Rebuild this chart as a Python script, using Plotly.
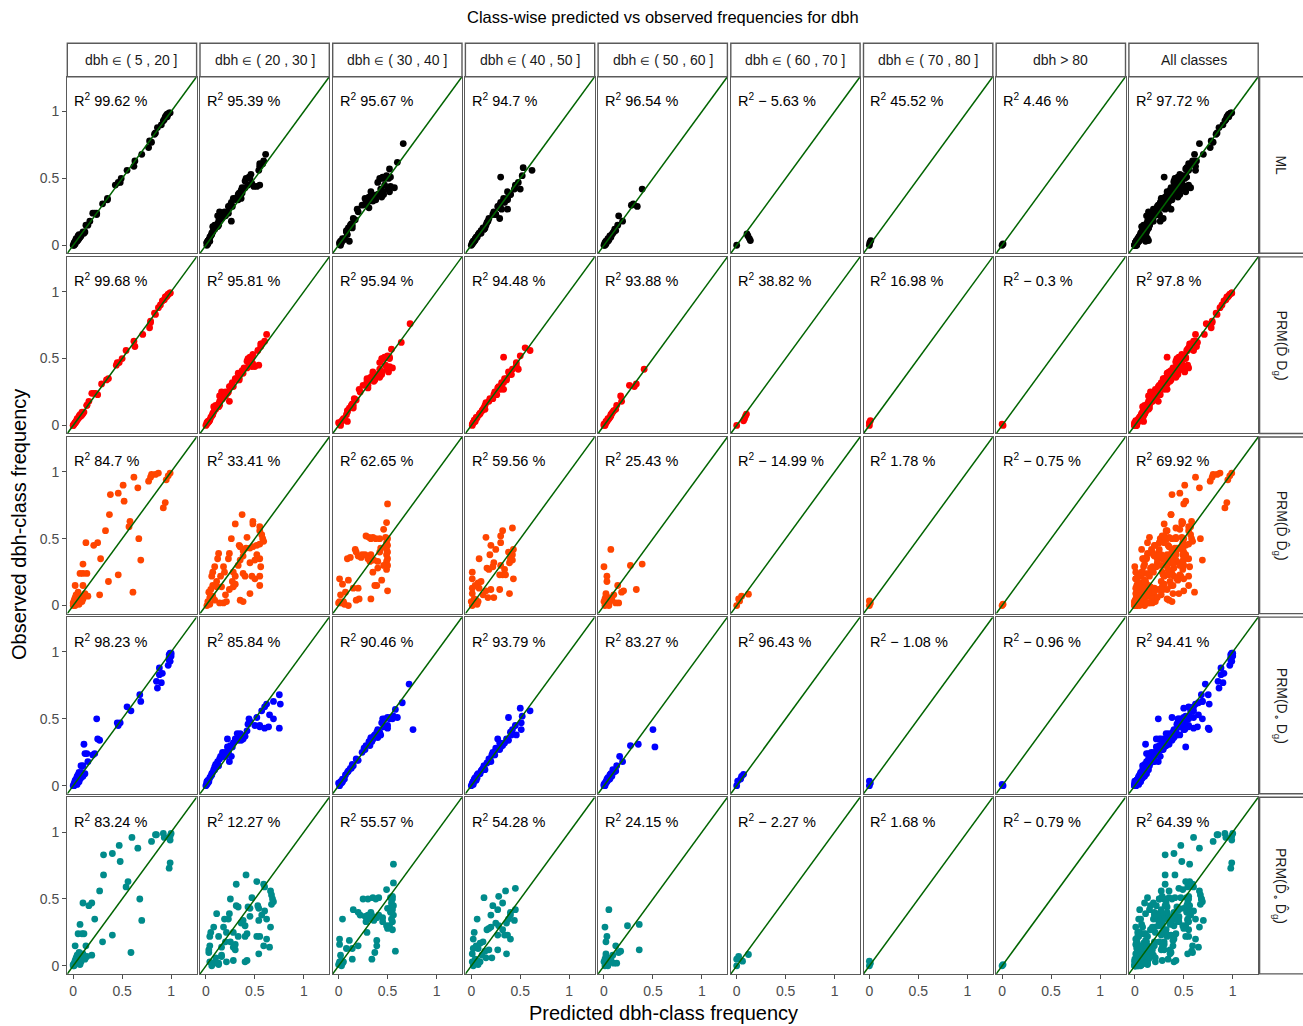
import plotly.graph_objects as go

# ---------------- data ----------------
EL = "<span style='font-size:11px'>\u2208</span>"
class_labels = ["dbh " + EL + " ( 5 , 20 ]", "dbh " + EL + " ( 20 , 30 ]", "dbh " + EL + " ( 30 , 40 ]",
                "dbh " + EL + " ( 40 , 50 ]", "dbh " + EL + " ( 50 , 60 ]", "dbh " + EL + " ( 60 , 70 ]",
                "dbh " + EL + " ( 70 , 80 ]", "dbh > 80", "All classes"]
row_labels = ["ML",
              "PRM(D\u0304 D<sub>g</sub>)",
              "PRM(D\u0302 D\u0302<sub>g</sub>)",
              "PRM(D<sub>\u2218</sub> D<sub>g</sub>)",
              "PRM(D\u0302<sub>\u2218</sub> D\u0302<sub>g</sub>)"]
row_colors = ["#000000", "#FF0000", "#FF4500", "#0000FF", "#008B8B"]

r2_ml = [99.62, 95.39, 95.67, 94.7, 96.54, -5.63, 45.52, 4.46, 97.72]
r2_prm_bar = [99.68, 95.81, 95.94, 94.48, 93.88, 38.82, 16.98, -0.3, 97.8]
r2_prm_hat = [84.7, 33.41, 62.65, 59.56, 25.43, -14.99, 1.78, -0.75, 69.92]
r2_prm_o = [98.23, 85.84, 90.46, 93.79, 83.27, 96.43, -1.08, -0.96, 94.41]
r2_prm_ohat = [83.24, 12.27, 55.57, 54.28, 24.15, -2.27, 1.68, -0.79, 64.39]

# observed class frequencies (shared by all methods)
obs_c1 = [0.99, 0.99, 0.98, 0.98, 0.97, 0.96, 0.96, 0.94, 0.93, 0.90,
          0.88, 0.84, 0.83, 0.78, 0.77, 0.73, 0.68, 0.63, 0.59, 0.56,
          0.50, 0.47, 0.47, 0.45, 0.35, 0.34, 0.31, 0.24, 0.24, 0.24,
          0.23, 0.18, 0.15, 0.15, 0.10, 0.08, 0.10, 0.09, 0.08, 0.07,
          0.07, 0.06, 0.05, 0.05, 0.04, 0.03, 0.03, 0.02, 0.02, 0.01,
          0.01, 0.00, 0.00]
ml_c1 = [0.99, 0.98, 0.97, 0.96, 0.95, 0.96, 0.94, 0.93, 0.92, 0.90,
         0.86, 0.84, 0.83, 0.78, 0.80, 0.77, 0.70, 0.63, 0.62, 0.55,
         0.49, 0.48, 0.46, 0.43, 0.35, 0.35, 0.30, 0.24, 0.22, 0.20,
         0.24, 0.17, 0.13, 0.15, 0.12, 0.08, 0.10, 0.11, 0.06, 0.08,
         0.05, 0.07, 0.06, 0.03, 0.05, 0.02, 0.04, 0.02, 0.01, 0.01,
         0.02, 0.01, 0.00]
bar_c1 = [0.99, 0.99, 0.97, 0.97, 0.96, 0.95, 0.94, 0.93, 0.91, 0.89,
          0.87, 0.83, 0.84, 0.79, 0.79, 0.78, 0.71, 0.62, 0.63, 0.54,
          0.50, 0.47, 0.45, 0.44, 0.36, 0.34, 0.29, 0.23, 0.21, 0.19,
          0.25, 0.16, 0.14, 0.14, 0.11, 0.09, 0.09, 0.10, 0.07, 0.08,
          0.06, 0.06, 0.05, 0.04, 0.04, 0.03, 0.03, 0.02, 0.02, 0.01,
          0.01, 0.00, 0.00]
hat_c1 = [0.99, 0.87, 0.84, 0.80, 0.97, 0.62, 0.79, 0.95, 0.77, 0.51,
          0.66, 0.46, 0.38, 0.52, 0.94, 0.92, 0.37, 0.58, 0.57, 0.33,
          0.67, 0.13, 0.25, 0.21, 0.28, 0.69, 0.10, 0.07, 0.10, 0.14,
          0.46, 0.36, 0.02, 0.10, 0.61, 0.27, 0.05, 0.12, 0.03, 0.08,
          0.15, 0.02, 0.10, 0.06, 0.01, 0.04, 0.09, 0.00, 0.03, 0.01,
          0.06, 0.02, 0.00]
o_c1 = [0.99, 1.00, 0.98, 0.99, 1.00, 0.98, 0.99, 0.98, 0.99, 0.97,
        0.88, 0.91, 0.88, 0.85, 0.90, 0.86, 0.68, 0.69, 0.55, 0.59,
        0.24, 0.45, 0.48, 0.46, 0.25, 0.27, 0.11, 0.14, 0.22, 0.12,
        0.20, 0.15, 0.10, 0.08, 0.06, 0.10, 0.09, 0.12, 0.05, 0.10,
        0.04, 0.08, 0.03, 0.07, 0.02, 0.05, 0.06, 0.01, 0.03, 0.02,
        0.04, 0.01, 0.00]
ohat_c1 = [1.00, 0.92, 0.84, 0.85, 0.99, 0.60, 0.93, 0.99, 0.80, 0.47,
           0.66, 0.40, 0.31, 0.48, 0.99, 0.98, 0.31, 0.56, 0.54, 0.27,
           0.68, 0.10, 0.19, 0.16, 0.22, 0.70, 0.07, 0.05, 0.11, 0.09,
           0.40, 0.30, 0.02, 0.13, 0.59, 0.19, 0.06, 0.10, 0.04, 0.09,
           0.14, 0.03, 0.12, 0.05, 0.02, 0.03, 0.08, 0.01, 0.04, 0.00,
           0.07, 0.01, 0.00]

obs_c2 = [0.68, 0.63, 0.61, 0.61, 0.59, 0.56, 0.50, 0.53, 0.50, 0.48,
          0.46, 0.45, 0.44, 0.43, 0.43, 0.41, 0.45, 0.44, 0.39, 0.35,
          0.39, 0.35, 0.34, 0.37, 0.32, 0.34, 0.35, 0.29, 0.29, 0.25,
          0.22, 0.29, 0.25, 0.22, 0.25, 0.22, 0.24, 0.22, 0.22, 0.20,
          0.22, 0.15, 0.15, 0.14, 0.14, 0.12, 0.14, 0.09, 0.04, 0.03,
          0.02, 0.02, 0.03, 0.03, 0.00, 0.06, 0.07, 0.18, 0.18, 0.16,
          0.01, 0.04, 0.10, 0.08, 0.51, 0.38, 0.30, 0.12]
ml_c2 = [0.61, 0.59, 0.55, 0.58, 0.55, 0.54, 0.41, 0.46, 0.45, 0.40,
         0.47, 0.55, 0.52, 0.37, 0.40, 0.36, 0.43, 0.49, 0.34, 0.30,
         0.37, 0.28, 0.33, 0.35, 0.26, 0.31, 0.36, 0.23, 0.27, 0.19,
         0.17, 0.25, 0.22, 0.20, 0.14, 0.18, 0.23, 0.15, 0.19, 0.16,
         0.12, 0.13, 0.09, 0.12, 0.07, 0.08, 0.10, 0.06, 0.03, 0.02,
         0.01, 0.01, 0.02, 0.04, 0.01, 0.04, 0.05, 0.13, 0.26, 0.12,
         0.02, 0.03, 0.07, 0.06, 0.44, 0.33, 0.25, 0.09]
bar_c2 = [0.62, 0.60, 0.57, 0.56, 0.56, 0.53, 0.43, 0.48, 0.47, 0.42,
          0.48, 0.54, 0.50, 0.39, 0.42, 0.37, 0.44, 0.47, 0.33, 0.31,
          0.38, 0.30, 0.34, 0.34, 0.27, 0.32, 0.34, 0.24, 0.28, 0.20,
          0.18, 0.26, 0.23, 0.19, 0.16, 0.19, 0.22, 0.16, 0.20, 0.17,
          0.14, 0.14, 0.10, 0.13, 0.08, 0.09, 0.11, 0.07, 0.04, 0.02,
          0.02, 0.01, 0.03, 0.03, 0.00, 0.05, 0.06, 0.14, 0.24, 0.13,
          0.01, 0.04, 0.08, 0.07, 0.45, 0.34, 0.26, 0.10]
hat_c2 = [0.37, 0.48, 0.48, 0.30, 0.55, 0.55, 0.26, 0.57, 0.58, 0.59,
          0.55, 0.52, 0.48, 0.45, 0.41, 0.38, 0.34, 0.35, 0.13, 0.12,
          0.24, 0.23, 0.35, 0.38, 0.45, 0.50, 0.55, 0.56, 0.09, 0.07,
          0.06, 0.18, 0.19, 0.15, 0.28, 0.30, 0.38, 0.40, 0.47, 0.50,
          0.55, 0.55, 0.07, 0.11, 0.16, 0.24, 0.28, 0.45, 0.35, 0.38,
          0.14, 0.18, 0.21, 0.02, 0.01, 0.04, 0.07, 0.11, 0.27, 0.30,
          0.04, 0.09, 0.03, 0.20, 0.42, 0.52, 0.33, 0.05]
o_c2 = [0.75, 0.69, 0.76, 0.62, 0.60, 0.57, 0.44, 0.65, 0.69, 0.45,
        0.43, 0.55, 0.64, 0.75, 0.60, 0.42, 0.50, 0.55, 0.32, 0.22,
        0.35, 0.30, 0.36, 0.40, 0.28, 0.33, 0.38, 0.22, 0.27, 0.20,
        0.18, 0.25, 0.23, 0.20, 0.17, 0.19, 0.22, 0.26, 0.15, 0.14,
        0.18, 0.13, 0.12, 0.10, 0.09, 0.08, 0.11, 0.06, 0.03, 0.02,
        0.02, 0.01, 0.03, 0.01, 0.00, 0.04, 0.05, 0.12, 0.24, 0.10,
        0.01, 0.02, 0.07, 0.06, 0.52, 0.36, 0.25, 0.09]
ohat_c2 = [0.41, 0.52, 0.59, 0.31, 0.60, 0.66, 0.25, 0.67, 0.68, 0.69,
           0.67, 0.53, 0.43, 0.54, 0.45, 0.60, 0.31, 0.33, 0.11, 0.19,
           0.24, 0.23, 0.38, 0.45, 0.36, 0.54, 0.62, 0.66, 0.08, 0.05,
           0.04, 0.18, 0.21, 0.13, 0.28, 0.33, 0.42, 0.40, 0.52, 0.62,
           0.55, 0.59, 0.04, 0.16, 0.65, 0.30, 0.28, 0.54, 0.42, 0.40,
           0.13, 0.08, 0.21, 0.04, 0.06, 0.10, 0.16, 0.20, 0.25, 0.30,
           0.13, 0.28, 0.03, 0.16, 0.47, 0.57, 0.40, 0.03]

obs_c3 = [0.76, 0.62, 0.57, 0.52, 0.51, 0.51, 0.50, 0.50, 0.50, 0.51,
          0.50, 0.47, 0.45, 0.42, 0.40, 0.38, 0.35, 0.33, 0.30, 0.27,
          0.42, 0.40, 0.37, 0.36, 0.38, 0.37, 0.38, 0.35, 0.35, 0.33,
          0.34, 0.33, 0.40, 0.43, 0.19, 0.15, 0.15, 0.20, 0.16, 0.19,
          0.13, 0.13, 0.11, 0.05, 0.05, 0.04, 0.03, 0.02, 0.01, 0.00,
          0.02, 0.03, 0.38, 0.30, 0.44, 0.25, 0.08, 0.36, 0.10, 0.28]
ml_c3 = [0.66, 0.60, 0.52, 0.49, 0.53, 0.45, 0.47, 0.42, 0.51, 0.50,
         0.44, 0.40, 0.47, 0.43, 0.33, 0.41, 0.30, 0.28, 0.24, 0.19,
         0.50, 0.45, 0.37, 0.31, 0.40, 0.36, 0.34, 0.36, 0.27, 0.31,
         0.38, 0.35, 0.52, 0.57, 0.16, 0.12, 0.14, 0.15, 0.13, 0.17,
         0.10, 0.14, 0.08, 0.04, 0.06, 0.05, 0.02, 0.03, 0.01, 0.02,
         0.01, 0.11, 0.46, 0.29, 0.53, 0.20, 0.09, 0.44, 0.08, 0.31]
bar_c3 = [0.73, 0.64, 0.54, 0.50, 0.52, 0.47, 0.46, 0.44, 0.52, 0.49,
          0.45, 0.42, 0.48, 0.42, 0.35, 0.40, 0.31, 0.29, 0.25, 0.21,
          0.49, 0.44, 0.38, 0.33, 0.39, 0.37, 0.35, 0.35, 0.29, 0.30,
          0.37, 0.36, 0.51, 0.55, 0.17, 0.13, 0.15, 0.16, 0.14, 0.18,
          0.11, 0.15, 0.09, 0.05, 0.06, 0.04, 0.03, 0.02, 0.01, 0.02,
          0.00, 0.09, 0.44, 0.30, 0.52, 0.22, 0.08, 0.42, 0.09, 0.30]
hat_c3 = [0.50, 0.49, 0.46, 0.28, 0.31, 0.35, 0.38, 0.42, 0.33, 0.48,
          0.50, 0.49, 0.50, 0.49, 0.50, 0.49, 0.50, 0.49, 0.50, 0.49,
          0.17, 0.18, 0.20, 0.23, 0.27, 0.30, 0.33, 0.09, 0.30, 0.32,
          0.36, 0.40, 0.42, 0.43, 0.44, 0.37, 0.39, 0.01, 0.04, 0.10,
          0.15, 0.20, 0.50, 0.33, 0.21, 0.18, 0.01, 0.03, 0.06, 0.10,
          0.00, 0.05, 0.24, 0.46, 0.48, 0.35, 0.02, 0.12, 0.07, 0.40]
o_c3 = [0.72, 0.65, 0.58, 0.56, 0.60, 0.50, 0.55, 0.47, 0.52, 0.53,
        0.45, 0.44, 0.50, 0.40, 0.39, 0.43, 0.35, 0.33, 0.28, 0.27,
        0.76, 0.42, 0.36, 0.40, 0.42, 0.38, 0.37, 0.33, 0.35, 0.31,
        0.33, 0.34, 0.40, 0.50, 0.20, 0.15, 0.14, 0.18, 0.14, 0.19,
        0.12, 0.13, 0.10, 0.04, 0.06, 0.04, 0.02, 0.03, 0.01, 0.01,
        0.00, 0.04, 0.42, 0.32, 0.46, 0.24, 0.07, 0.33, 0.09, 0.26]
ohat_c3 = [0.56, 0.56, 0.49, 0.55, 0.41, 0.35, 0.30, 0.25, 0.38, 0.53,
           0.55, 0.54, 0.56, 0.55, 0.53, 0.56, 0.54, 0.55, 0.52, 0.55,
           0.15, 0.20, 0.27, 0.39, 0.30, 0.35, 0.22, 0.04, 0.30, 0.28,
           0.36, 0.45, 0.33, 0.50, 0.39, 0.39, 0.20, 0.01, 0.01, 0.11,
           0.08, 0.14, 0.58, 0.34, 0.14, 0.03, 0.01, 0.04, 0.00, 0.03,
           0.01, 0.05, 0.41, 0.49, 0.54, 0.29, 0.02, 0.45, 0.37, 0.50]

obs_c4 = [0.58, 0.56, 0.52, 0.51, 0.45, 0.42, 0.35, 0.38, 0.42, 0.38,
          0.35, 0.34, 0.32, 0.32, 0.29, 0.28, 0.27, 0.23, 0.23, 0.23,
          0.20, 0.25, 0.20, 0.17, 0.13, 0.13, 0.09, 0.12, 0.11, 0.12,
          0.06, 0.06, 0.09, 0.05, 0.04, 0.03, 0.02, 0.01, 0.00, 0.03,
          0.47, 0.40, 0.30, 0.18, 0.15, 0.08, 0.02, 0.27]
ml_c4 = [0.53, 0.62, 0.52, 0.30, 0.45, 0.44, 0.37, 0.40, 0.50, 0.40,
         0.33, 0.37, 0.34, 0.30, 0.27, 0.29, 0.31, 0.22, 0.25, 0.25,
         0.29, 0.23, 0.18, 0.16, 0.14, 0.12, 0.08, 0.13, 0.10, 0.13,
         0.06, 0.05, 0.10, 0.04, 0.04, 0.02, 0.02, 0.01, 0.00, 0.03,
         0.48, 0.37, 0.29, 0.17, 0.15, 0.07, 0.01, 0.37]
bar_c4 = [0.55, 0.60, 0.50, 0.33, 0.46, 0.42, 0.36, 0.41, 0.48, 0.39,
          0.34, 0.36, 0.33, 0.31, 0.28, 0.27, 0.30, 0.23, 0.24, 0.26,
          0.22, 0.24, 0.19, 0.15, 0.13, 0.13, 0.09, 0.12, 0.11, 0.14,
          0.05, 0.06, 0.09, 0.05, 0.03, 0.03, 0.02, 0.01, 0.01, 0.04,
          0.46, 0.38, 0.31, 0.18, 0.14, 0.08, 0.02, 0.33]
hat_c4 = [0.42, 0.32, 0.30, 0.15, 0.20, 0.25, 0.08, 0.19, 0.43, 0.42,
          0.40, 0.42, 0.39, 0.23, 0.22, 0.16, 0.34, 0.29, 0.32, 0.35,
          0.43, 0.01, 0.01, 0.07, 0.08, 0.01, 0.01, 0.20, 0.15, 0.29,
          0.23, 0.17, 0.39, 0.03, 0.05, 0.00, 0.02, 0.06, 0.01, 0.07,
          0.30, 0.38, 0.30, 0.10, 0.04, 0.12, 0.04, 0.18]
o_c4 = [0.50, 0.60, 0.52, 0.38, 0.45, 0.42, 0.27, 0.46, 0.51, 0.41,
        0.36, 0.38, 0.34, 0.29, 0.30, 0.25, 0.26, 0.24, 0.22, 0.21,
        0.19, 0.22, 0.18, 0.16, 0.12, 0.13, 0.09, 0.11, 0.10, 0.14,
        0.06, 0.04, 0.07, 0.03, 0.05, 0.02, 0.01, 0.02, 0.00, 0.02,
        0.51, 0.40, 0.32, 0.20, 0.13, 0.06, 0.02, 0.29]
ohat_c4 = [0.45, 0.35, 0.28, 0.13, 0.22, 0.27, 0.06, 0.20, 0.45, 0.40,
           0.38, 0.44, 0.36, 0.25, 0.20, 0.18, 0.32, 0.27, 0.34, 0.37,
           0.40, 0.03, 0.02, 0.09, 0.07, 0.02, 0.01, 0.18, 0.14, 0.27,
           0.21, 0.15, 0.36, 0.04, 0.06, 0.01, 0.03, 0.07, 0.02, 0.09,
           0.32, 0.40, 0.28, 0.12, 0.05, 0.11, 0.05, 0.16]

obs_c5 = [0.42, 0.31, 0.30, 0.29, 0.22, 0.18, 0.15, 0.12, 0.10, 0.08,
          0.07, 0.06, 0.05, 0.05, 0.04, 0.03, 0.03, 0.02, 0.02, 0.01,
          0.01, 0.00, 0.00, 0.09, 0.11]
ml_c5 = [0.39, 0.30, 0.28, 0.34, 0.15, 0.19, 0.14, 0.11, 0.10, 0.08,
         0.06, 0.07, 0.05, 0.04, 0.05, 0.02, 0.04, 0.02, 0.01, 0.01,
         0.02, 0.00, 0.01, 0.09, 0.12]
bar_c5 = [0.41, 0.33, 0.26, 0.31, 0.17, 0.18, 0.13, 0.12, 0.09, 0.07,
          0.07, 0.06, 0.04, 0.05, 0.04, 0.03, 0.02, 0.02, 0.02, 0.00,
          0.01, 0.00, 0.01, 0.08, 0.10]
hat_c5 = [0.07, 0.39, 0.27, 0.00, 0.03, 0.03, 0.14, 0.33, 0.18, 0.10,
          0.02, 0.05, 0.01, 0.08, 0.03, 0.06, 0.00, 0.15, 0.12, 0.04,
          0.02, 0.01, 0.05, 0.02, 0.20]
o_c5 = [0.50, 0.35, 0.27, 0.52, 0.16, 0.19, 0.13, 0.09, 0.10, 0.06,
        0.08, 0.04, 0.06, 0.03, 0.04, 0.02, 0.03, 0.01, 0.02, 0.01,
        0.00, 0.00, 0.01, 0.07, 0.12]
ohat_c5 = [0.05, 0.36, 0.24, 0.01, 0.03, 0.02, 0.12, 0.36, 0.15, 0.09,
           0.02, 0.04, 0.01, 0.07, 0.03, 0.05, 0.00, 0.13, 0.10, 0.03,
           0.02, 0.01, 0.04, 0.02, 0.17]

obs_c6 = [0.00, 0.085, 0.07, 0.05, 0.035]
ml_c6 = [0.00, 0.105, 0.115, 0.13, 0.14]
bar_c6 = [0.00, 0.10, 0.09, 0.08, 0.07]
hat_c6 = [0.00, 0.12, 0.05, 0.02, 0.03]
o_c6 = [0.00, 0.07, 0.05, 0.04, 0.01]
ohat_c6 = [0.00, 0.12, 0.02, 0.00, 0.06]

obs_c7 = [0.00, 0.02, 0.035]
ml_c7 = [0.00, 0.005, 0.015]
bar_c7 = [0.00, 0.00, 0.01]
hat_c7 = [0.00, 0.01, 0.00]
o_c7 = [0.00, 0.01, 0.00]
ohat_c7 = [0.00, 0.01, 0.00]

obs_c8 = [0.00, 0.01]
ml_c8 = [0.00, 0.01]
bar_c8 = [0.01, 0.00]
hat_c8 = [0.00, 0.01]
o_c8 = [0.01, 0.00]
ohat_c8 = [0.00, 0.01]

observed = [obs_c1, obs_c2, obs_c3, obs_c4, obs_c5, obs_c6, obs_c7, obs_c8]
predicted = [
    [ml_c1, ml_c2, ml_c3, ml_c4, ml_c5, ml_c6, ml_c7, ml_c8],
    [bar_c1, bar_c2, bar_c3, bar_c4, bar_c5, bar_c6, bar_c7, bar_c8],
    [hat_c1, hat_c2, hat_c3, hat_c4, hat_c5, hat_c6, hat_c7, hat_c8],
    [o_c1, o_c2, o_c3, o_c4, o_c5, o_c6, o_c7, o_c8],
    [ohat_c1, ohat_c2, ohat_c3, ohat_c4, ohat_c5, ohat_c6, ohat_c7, ohat_c8],
]
r2_values = [r2_ml, r2_prm_bar, r2_prm_hat, r2_prm_o, r2_prm_ohat]
tick_vals = [0, 0.5, 1]
tick_text = ["0", "0.5", "1"]

# ---------------- layout geometry (pixels) ----------------
W, H = 1303, 1026
X0, XP, XW = 67.3, 132.7, 129.3
Y0, YP, YH = 76.7, 180.15, 176.6
STRIP_TOP = 43.3
RSTRIP_L = 1259.6
RNG = [-0.06, 1.26]
FONT = "Liberation Sans, Arial, sans-serif"
BORDER = "#5a5a5a"

fig = go.Figure()
layout_axes = {}
annotations = []
shapes = []


def fmt(v):
    s = ("%g" % abs(v))
    return ("\u2212 " + s) if v < 0 else s


for r in range(5):
    for c in range(9):
        k = r * 9 + c + 1
        sfx = "" if k == 1 else str(k)
        left = X0 + c * XP
        top = Y0 + r * YP
        if c < 8:
            xs = predicted[r][c]
            ys = observed[c]
        else:
            xs = [v for lst in predicted[r] for v in lst]
            ys = [v for lst in observed for v in lst]
        assert len(xs) == len(ys)
        fig.add_trace(go.Scatter(x=xs, y=ys, mode="markers",
                                 marker=dict(size=6.8, color=row_colors[r], line=dict(width=0)),
                                 xaxis="x" + sfx, yaxis="y" + sfx, showlegend=False,
                                 hoverinfo="skip"))
        fig.add_trace(go.Scatter(x=RNG, y=RNG, mode="lines",
                                 line=dict(color="#006400", width=1.5),
                                 xaxis="x" + sfx, yaxis="y" + sfx, showlegend=False,
                                 hoverinfo="skip"))
        layout_axes["xaxis" + sfx] = dict(
            domain=[left / W, (left + XW) / W], range=RNG, anchor="y" + sfx,
            showgrid=False, zeroline=False, showline=True, mirror=True,
            linecolor=BORDER, linewidth=1.4,
            ticks="outside" if r == 4 else "", ticklen=4, tickcolor="#4d4d4d",
            showticklabels=(r == 4), tickvals=tick_vals, ticktext=tick_text,
            tickfont=dict(size=14, color="#4d4d4d", family=FONT), fixedrange=True)
        layout_axes["yaxis" + sfx] = dict(
            domain=[1 - (top + YH) / H, 1 - top / H], range=RNG, anchor="x" + sfx,
            showgrid=False, zeroline=False, showline=True, mirror=True,
            linecolor=BORDER, linewidth=1.4,
            ticks="outside" if c == 0 else "", ticklen=4, tickcolor="#4d4d4d",
            showticklabels=(c == 0), tickvals=tick_vals, ticktext=tick_text,
            tickfont=dict(size=14, color="#4d4d4d", family=FONT), fixedrange=True)
        annotations.append(dict(
            x=-0.01, y=1.085, xref="x" + sfx, yref="y" + sfx, xanchor="left", yanchor="middle",
            text="R<sup>2</sup> " + fmt(r2_values[r][c]) + " %", showarrow=False,
            font=dict(size=14.5, color="#000000", family=FONT)))

# top strips
for c in range(9):
    left = X0 + c * XP
    shapes.append(dict(type="rect", xref="paper", yref="paper",
                       x0=left / W, x1=(left + XW) / W,
                       y0=1 - Y0 / H, y1=1 - STRIP_TOP / H,
                       line=dict(color=BORDER, width=1.4), fillcolor="white"))
    annotations.append(dict(x=(left + XW / 2) / W, y=1 - (STRIP_TOP + Y0) / 2 / H,
                            xref="paper", yref="paper", text=class_labels[c], showarrow=False,
                            xanchor="center", yanchor="middle",
                            font=dict(size=14, color="#1a1a1a", family=FONT)))
# right strips
for r in range(5):
    top = Y0 + r * YP
    shapes.append(dict(type="rect", xref="paper", yref="paper",
                       x0=RSTRIP_L / W, x1=(W + 5) / W,
                       y0=1 - (top + YH) / H, y1=1 - top / H,
                       line=dict(color=BORDER, width=1.4), fillcolor="white"))
    annotations.append(dict(x=(RSTRIP_L + 21) / W, y=1 - (top + YH / 2) / H,
                            xref="paper", yref="paper", text=row_labels[r], showarrow=False,
                            textangle=90, xanchor="center", yanchor="middle",
                            font=dict(size=14, color="#1a1a1a", family=FONT)))

# titles
annotations.append(dict(x=663 / W, y=1 - 17 / H, xref="paper", yref="paper",
                        text="Class-wise predicted vs observed frequencies for dbh",
                        showarrow=False, xanchor="center", yanchor="middle",
                        font=dict(size=16.5, color="#000000", family=FONT)))
annotations.append(dict(x=663 / W, y=1 - 1013 / H, xref="paper", yref="paper",
                        text="Predicted dbh-class frequency",
                        showarrow=False, xanchor="center", yanchor="middle",
                        font=dict(size=20, color="#000000", family=FONT)))
annotations.append(dict(x=19 / W, y=1 - 525 / H, xref="paper", yref="paper",
                        text="Observed dbh-class frequency", textangle=-90,
                        showarrow=False, xanchor="center", yanchor="middle",
                        font=dict(size=20, color="#000000", family=FONT)))

fig.update_layout(width=W, height=H, margin=dict(l=0, r=0, t=0, b=0),
                  paper_bgcolor="white", plot_bgcolor="white",
                  annotations=annotations, shapes=shapes, showlegend=False,
                  font=dict(family=FONT), **layout_axes)

fig.write_html("out.html")
